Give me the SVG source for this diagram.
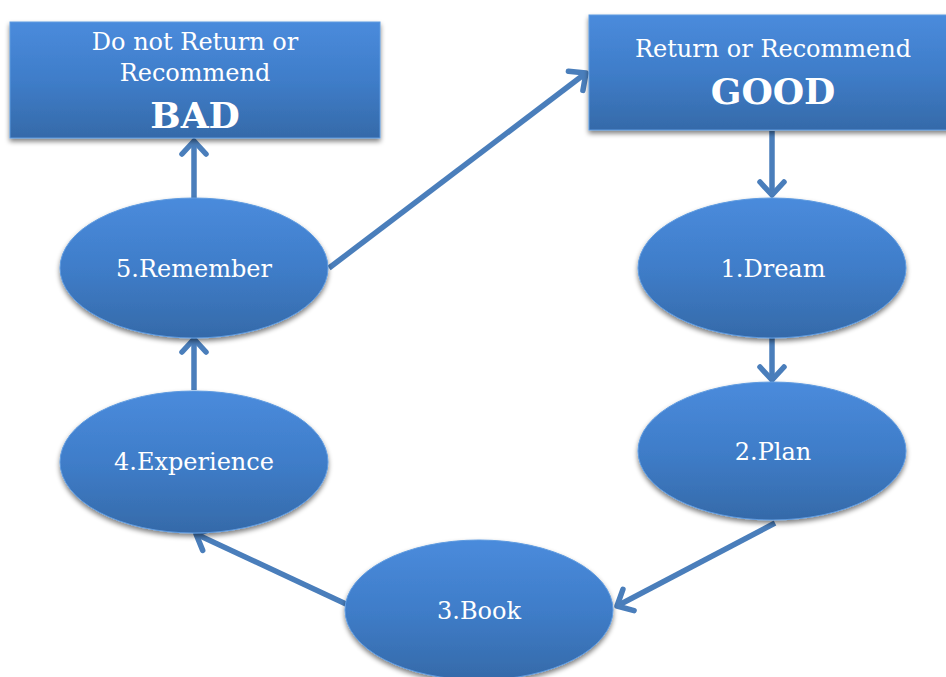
<svg xmlns="http://www.w3.org/2000/svg" width="946" height="677" viewBox="0 0 946 677">
<defs>
<linearGradient id="g" x1="0" y1="0" x2="0" y2="1">
<stop offset="0" stop-color="#4a8bdc"/>
<stop offset="0.5" stop-color="#3f7dc9"/>
<stop offset="1" stop-color="#356aa9"/>
</linearGradient>
<filter id="sh" x="-10%" y="-10%" width="120%" height="130%">
<feGaussianBlur in="SourceAlpha" stdDeviation="2.5"/>
<feOffset dx="0" dy="3" result="b"/>
<feComponentTransfer><feFuncA type="linear" slope="0.5"/></feComponentTransfer>
<feMerge><feMergeNode/><feMergeNode in="SourceGraphic"/></feMerge>
</filter>
<marker id="ah" markerUnits="userSpaceOnUse" markerWidth="32" markerHeight="32" refX="23" refY="16" orient="auto" viewBox="0 0 32 32">
<path d="M10,4 L23,16 L10,28" fill="none" stroke="#4a7ebb" stroke-width="5.5" stroke-linecap="round" stroke-linejoin="round"/>
</marker>
</defs>
<style>
.n{fill:url(#g);stroke:#5f9be0;stroke-width:1;filter:url(#sh)}
.t{fill:#fff;font-family:"DejaVu Serif","Liberation Serif",serif;text-anchor:middle}
.c{stroke:#4a7ebb;stroke-width:5.5;fill:none;marker-end:url(#ah)}
</style>
<g id="connectors">
<line class="c" x1="194" y1="198" x2="194" y2="141"/>
<line class="c" x1="329" y1="268" x2="586" y2="73"/>
<line class="c" x1="772" y1="131" x2="772" y2="195"/>
<line class="c" x1="772" y1="338" x2="772" y2="380"/>
<line class="c" x1="775" y1="523" x2="617" y2="606"/>
<line class="c" x1="346" y1="604" x2="196" y2="534"/>
<line class="c" x1="194" y1="390" x2="194" y2="339"/>
</g>
<g id="bad">
<rect class="n" x="10" y="22" width="370" height="116"/>
<text class="t" x="195" y="50" font-size="24">Do not Return or</text>
<text class="t" x="195" y="81" font-size="24">Recommend</text>
<text class="t" x="195" y="128" font-size="36" font-weight="bold">BAD</text>
</g>
<g id="good">
<rect class="n" x="589" y="15" width="370" height="115"/>
<text class="t" x="773" y="57" font-size="24">Return or Recommend</text>
<text class="t" x="773" y="104" font-size="36" font-weight="bold">GOOD</text>
</g>
<g id="remember">
<ellipse class="n" cx="194" cy="268" rx="134" ry="70"/>
<text class="t" x="194" y="277" font-size="24">5.Remember</text>
</g>
<g id="experience">
<ellipse class="n" cx="194" cy="462" rx="134" ry="71"/>
<text class="t" x="194" y="470" font-size="24">4.Experience</text>
</g>
<g id="dream">
<ellipse class="n" cx="772" cy="268" rx="134" ry="70"/>
<text class="t" x="773" y="277" font-size="24">1.Dream</text>
</g>
<g id="plan">
<ellipse class="n" cx="772" cy="451" rx="134" ry="69"/>
<text class="t" x="773" y="460" font-size="24">2.Plan</text>
</g>
<g id="book">
<ellipse class="n" cx="479" cy="610" rx="134" ry="70"/>
<text class="t" x="479" y="619" font-size="24">3.Book</text>
</g>
</svg>
